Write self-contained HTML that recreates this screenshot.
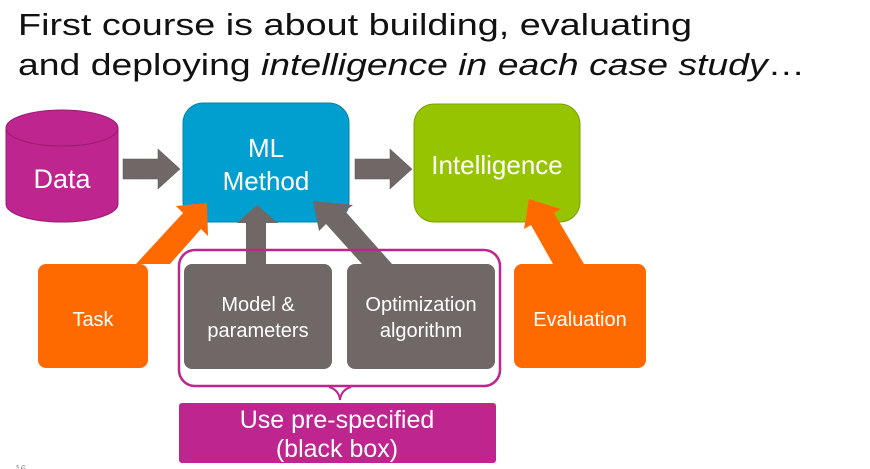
<!DOCTYPE html>
<html><head><meta charset="utf-8"><style>
html,body{margin:0;padding:0;background:#fff;width:870px;height:469px;overflow:hidden}
svg text{font-family:"Liberation Sans",sans-serif}
</style></head><body>
<svg width="870" height="469" viewBox="0 0 870 469" xmlns="http://www.w3.org/2000/svg">
<text x="18" y="35" font-size="31" fill="#111" textLength="674" lengthAdjust="spacingAndGlyphs">First course is about building, evaluating</text>
<text x="18" y="75" font-size="31" fill="#111" textLength="787" lengthAdjust="spacingAndGlyphs">and deploying <tspan font-style="italic">intelligence in each case study</tspan>…</text>

<path d="M6,128 L6,204 A56,18 0 0 0 118,204 L118,128 Z" fill="#be258e" stroke="#9a1c72" stroke-width="1"/>
<ellipse cx="62" cy="128" rx="56" ry="18" fill="#be258e" stroke="#9a1c72" stroke-width="1"/>
<text x="62" y="188" font-size="27" fill="#fff" text-anchor="middle">Data</text>

<polygon points="123,159 158,159 158,149 180,169 158,189 158,179 123,179" fill="#706866" stroke="#555" stroke-width="0.5"/>
<polygon points="355,159 390,159 390,149 412,169 390,189 390,179 355,179" fill="#706866" stroke="#555" stroke-width="0.5"/>

<rect x="183" y="103" width="166" height="119" rx="20" fill="#009fcf" stroke="#0b7fa6" stroke-width="1"/>
<text x="266" y="157" font-size="26" fill="#fff" text-anchor="middle">ML</text>
<text x="266" y="190" font-size="26" fill="#fff" text-anchor="middle">Method</text>

<rect x="414" y="104" width="166" height="118" rx="20" fill="#97c400" stroke="#7aa000" stroke-width="1"/>
<text x="497" y="174" font-size="26" fill="#fff" text-anchor="middle">Intelligence</text>

<polygon points="136,264 170,264 201,229 208,236 207,203 176,206 183,213" fill="#ff6a00"/>
<polygon points="246,264 266,264 266,223 278,223 257,205 237,223 246,223" fill="#706866"/>
<polygon points="362,264 392,264 345,211 353,205 313,201 319,231 326,224" fill="#706866"/>
<polygon points="553,264 584,264 554,213 561,209 529,199 524,229 531,225" fill="#ff6a00"/>

<rect x="38" y="264" width="110" height="104" rx="8" fill="#ff6a00"/>
<text x="93" y="326" font-size="20" fill="#fff" text-anchor="middle">Task</text>

<rect x="179" y="250" width="321" height="136" rx="16" fill="none" stroke="#be258e" stroke-width="2.5"/>
<path d="M329,387 Q339,390 340,400 Q341,390 351,387" fill="none" stroke="#be258e" stroke-width="2"/>

<rect x="184" y="264" width="148" height="105" rx="8" fill="#706866"/>
<text x="258" y="311" font-size="20" fill="#fff" text-anchor="middle">Model &amp;</text>
<text x="258" y="337" font-size="20" fill="#fff" text-anchor="middle">parameters</text>
<rect x="347" y="264" width="148" height="105" rx="8" fill="#706866"/>
<text x="421" y="311" font-size="20" fill="#fff" text-anchor="middle">Optimization</text>
<text x="421" y="337" font-size="20" fill="#fff" text-anchor="middle">algorithm</text>

<rect x="514" y="264" width="132" height="104" rx="8" fill="#ff6a00"/>
<text x="580" y="326" font-size="20" fill="#fff" text-anchor="middle">Evaluation</text>

<rect x="179" y="403" width="317" height="60" rx="3" fill="#be258e"/>
<text x="337" y="428" font-size="25" fill="#fff" text-anchor="middle">Use pre-specified</text>
<text x="337" y="457" font-size="25" fill="#fff" text-anchor="middle">(black box)</text>

<text x="15" y="472" font-size="10" fill="#999">16</text>
</svg>
</body></html>
